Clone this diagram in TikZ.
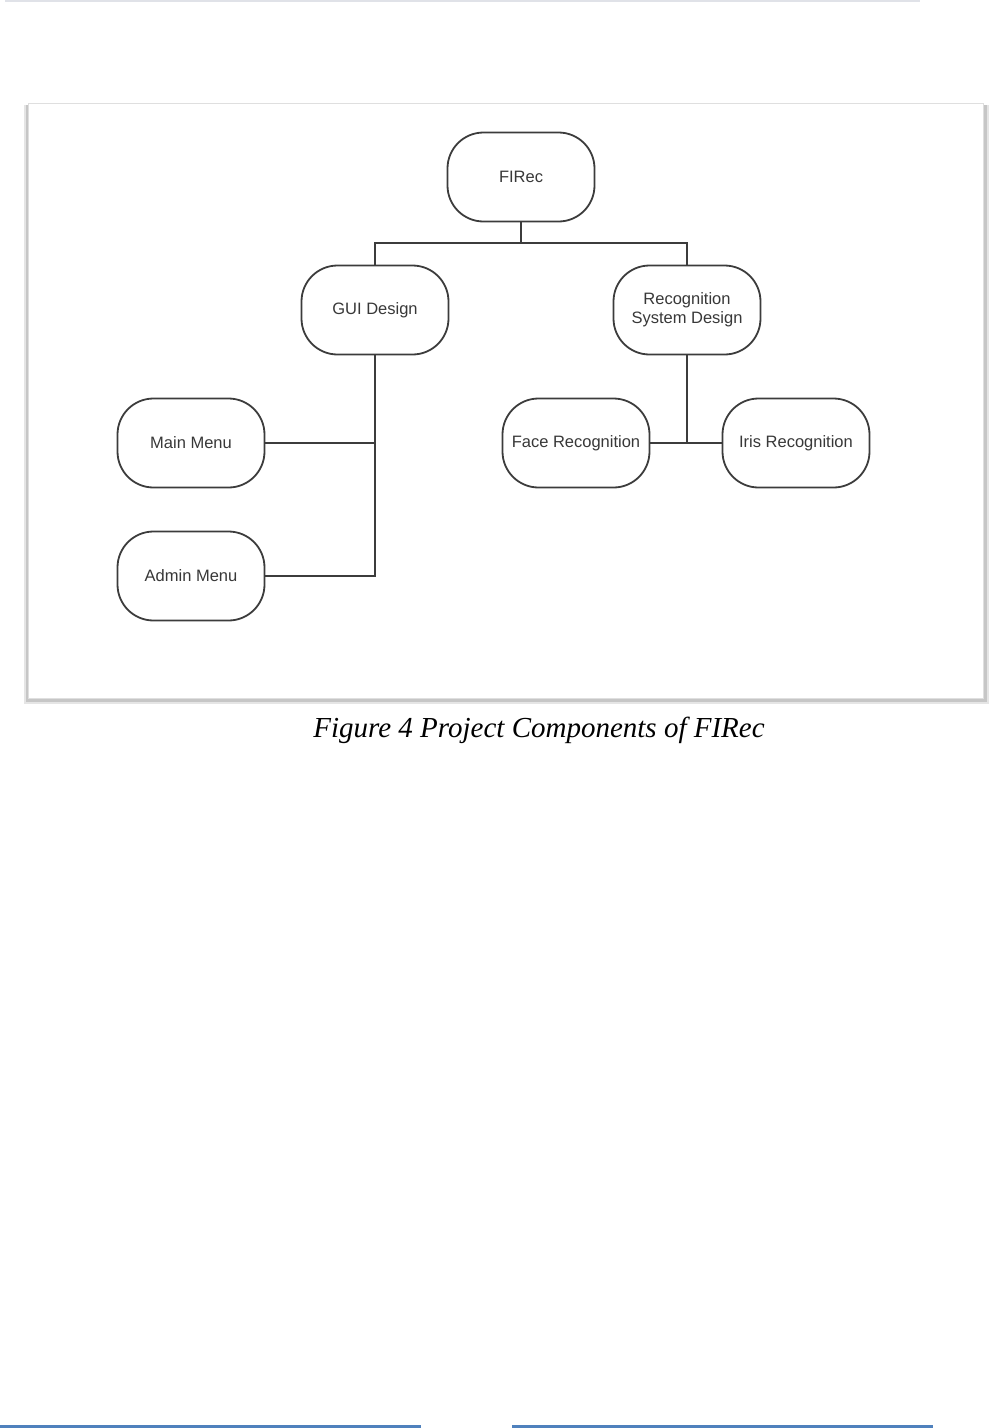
\documentclass[tikz,border=0pt]{standalone}
\usepackage{fontspec}
\setmainfont{Liberation Serif}
\setsansfont{Liberation Sans}
\usetikzlibrary{positioning,shadows}
\definecolor{boxline}{RGB}{60,60,60}
\definecolor{rulegray}{RGB}{224,226,232}
\definecolor{wordblue}{RGB}{79,129,189}
\tikzset{
    part/.style={draw=boxline, line width=1.8pt, rounded corners=36pt,
        minimum width=147pt, minimum height=89pt, inner sep=2pt, align=center,
        font=\sffamily\fontsize{16.5}{19}\selectfont, text=black!78},
    link/.style={draw=boxline, line width=1.6pt}
}
\begin{document}
\begin{tikzpicture}[x=1pt,y=-1pt]
    \useasboundingbox (0,0) rectangle (994,1428);
    % page rules
    \draw[rulegray, line width=1.2pt] (5,1) -- (920,1);
    \draw[wordblue, line width=3pt] (0,1426) -- (421,1426);
    \draw[wordblue, line width=3pt] (512,1426) -- (933,1426);
    % frame with shadow
    \fill[gray!20] (24,105) rectangle (989,704);
    \fill[gray!45] (26,105) rectangle (987,702);
    \filldraw[fill=white, draw=gray!25, line width=0.8pt] (28,103) rectangle (983,698);
    % components
    \node[part] (firec) at (521,177) {FIRec};
    \node[part] (gui)   at (375,310) {GUI Design};
    \node[part] (rsd)   at (687,310) {Recognition\\System Design};
    \node[part] (main)  at (191,443) {Main Menu};
    \node[part] (admin) at (191,576) {Admin Menu};
    \node[part] (face)  at (576,443) {Face Recognition};
    \node[part] (iris)  at (796,443) {Iris Recognition};
    % connectors
    \coordinate (bus) at (521,243);
    \draw[link] (firec.south) -- (bus);
    \draw[link] (gui.north) |- (bus) -| (rsd.north);
    \draw[link] (gui.south) |- (admin.east);
    \draw[link] (main.east) -- (main.east -| gui.south);
    \draw[link] (rsd.south) -- (rsd.south |- face.east);
    \draw[link] (face.east) -- (iris.west);
    % caption
    \node[font=\itshape\fontsize{29}{32}\selectfont] (caption) at (539,730) {Figure 4 Project Components of FIRec};
\end{tikzpicture}
\end{document}
